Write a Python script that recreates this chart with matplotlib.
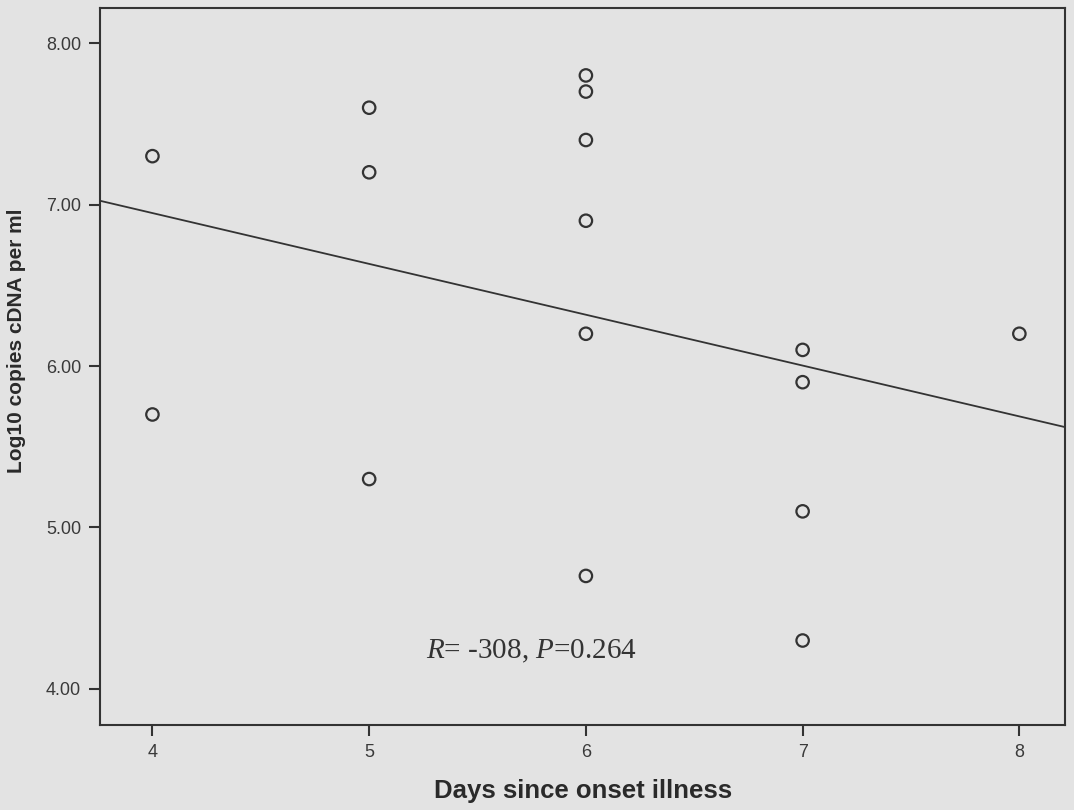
import numpy as np
import matplotlib.pyplot as plt

days = [4, 4, 5, 5, 5, 6, 6, 6, 6, 6, 6, 7, 7, 7, 7, 8]
log_copies = [7.3, 5.7, 7.6, 7.2, 5.3, 7.8, 7.7, 7.4, 6.9, 6.2, 4.7,
              6.1, 5.9, 5.1, 4.3, 6.2]
x_ticks = [4, 5, 6, 7, 8]
y_ticks = [4.0, 5.0, 6.0, 7.0, 8.0]

plt.rcParams['mathtext.fontset'] = 'custom'
plt.rcParams['mathtext.rm'] = 'Liberation Serif'
plt.rcParams['mathtext.it'] = 'Liberation Serif:italic'

bg = '#e3e3e3'
ink = '#333333'

fig = plt.figure(figsize=(10.74, 8.1), dpi=100, facecolor=bg)
ax = fig.add_axes([0.0935, 0.105, 0.898, 0.885], facecolor=bg)

ax.scatter(days, log_copies, s=80, facecolors='none', edgecolors=ink,
           linewidths=1.6, zorder=3)

xlim = (3.76, 8.21)
ax.set_xlim(*xlim)
ax.set_ylim(3.777, 8.217)

# least squares fit line across the whole x range
slope, icept = np.polyfit(days, log_copies, 1)
xs = np.array(xlim)
ax.plot(xs, slope * xs + icept, color=ink, lw=1.3, zorder=2)

ax.set_xticks(x_ticks)
ax.set_xticklabels([str(t) for t in x_ticks])
ax.set_yticks(y_ticks)
ax.set_yticklabels(['%.2f' % t for t in y_ticks])

for s in ax.spines.values():
    s.set_color(ink)
    s.set_linewidth(1.5)

ax.tick_params(direction='out', length=8, width=1.5, color=ink,
               labelsize=13, labelcolor='#3a3a3a', pad=6)
for lab in ax.get_xticklabels() + ax.get_yticklabels():
    lab.set_family('Liberation Sans')

ax.set_xlabel('Days since onset illness', fontsize=18.5, fontweight='bold',
              family='Liberation Sans', color='#2a2a2a', labelpad=13)
ax.set_ylabel('Log10 copies cDNA per ml', fontsize=15, fontweight='bold',
              family='Liberation Sans', color='#2a2a2a')
ax.yaxis.set_label_coords(-0.077, 0.536)

ax.text(5.26, 4.23, r'$R$= -308, $P$=0.264', fontsize=21,
        family='Liberation Serif', color=ink, va='center', ha='left')

fig.savefig('out.png', dpi=100, facecolor=bg)
